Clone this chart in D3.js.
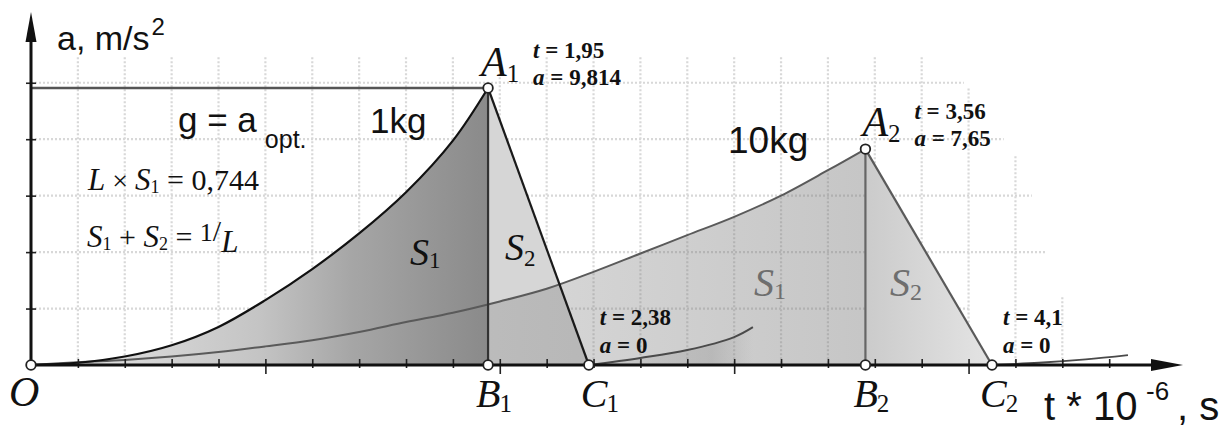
<!DOCTYPE html>
<html>
<head>
<meta charset="utf-8">
<script src="https://cdn.jsdelivr.net/npm/d3@7"></script>
<style>
  body { margin: 0; background: #fff; }
  svg text { fill: #111; }
</style>
</head>
<body>
<div id="chart"></div>
<script>
// acceleration curves, t in 10^-6 s, a in m/s^2
var curve1kg  = [[0,0],[0.2,0.08],[0.4,0.3],[0.6,0.7],[0.8,1.35],[1.0,2.3],[1.2,3.4],
                 [1.4,4.66],[1.6,6.12],[1.8,7.95],[1.95,9.814]];
var curve10kg = [[0,0],[0.2,0.1],[0.4,0.18],[0.6,0.3],[0.8,0.46],[1.0,0.66],[1.2,0.88],
                 [1.4,1.17],[1.6,1.52],[1.8,1.85],[2.0,2.25],[2.2,2.7],[2.4,3.3],[2.6,3.95],
                 [2.8,4.6],[3.0,5.25],[3.2,6.0],[3.4,6.9],[3.56,7.65]];
var tail1kg   = [[2.38,0],[2.6,0.25],[2.8,0.53],[3.0,0.99],[3.08,1.34]];
var tail10kg  = [[4.1,0],[4.3,0.08],[4.5,0.2],[4.68,0.35]];

var peakT = [1.95, 3.56];
var peakA = [9.814, 7.65];
var stopT = [2.38, 4.1];
var peakTLabel = ["1,95", "3,56"];
var peakALabel = ["9,814", "7,65"];
var stopTLabel = ["2,38", "4,1"];

var xTicks = [0.2,0.4,0.6,0.8,1,1.2,1.4,1.6,1.8,2,2.2,2.4,2.6,2.8,3,3.2,3.4,3.6,3.8,4,4.2,4.4,4.6];
var yTicks = [2,4,6,8,10];

// background squared paper (ragged on the right)
var gridRowEnd = [4.0, 4.33, 4.27, 4.15, 3.98];
var gridCols   = [0.2,0.4,0.6,0.8,1,1.2,1.4,1.6,1.8,2,2.2,2.4,2.6,2.8,3,3.2,3.4,3.6,3.8,4,4.2,4.4];
var gridColTop = [10.9,10.9,10.9,10.9,10.9,10.9,10.9,10.9,10.9,10.9,10.9,10.9,10.9,10.9,10.9,10.9,10.9,10.9,10.9,9.8,7.4,2.4];

var W = 1229, H = 427;
var serif = '"Liberation Serif", "Times New Roman", serif';
var sans  = '"Liberation Sans", Arial, sans-serif';

var x = d3.scaleLinear().domain([0, 4.1]).range([31, 992]);
var y = d3.scaleLinear().domain([0, 9.814]).range([365, 88]);

var svg = d3.select("#chart").append("svg")
    .attr("width", W)
    .attr("height", H);

var defs = svg.append("defs");
function hgrad(id, t0, t1, stops) {
  var g = defs.append("linearGradient").attr("id", id)
      .attr("gradientUnits", "userSpaceOnUse")
      .attr("x1", x(t0)).attr("x2", x(t1)).attr("y1", 0).attr("y2", 0);
  stops.forEach(function(s) {
    g.append("stop").attr("offset", s[0]).attr("stop-color", s[1]).attr("stop-opacity", s[2]);
  });
}
hgrad("g1kg", 0, 1.95, [[0, "#e8e8e8", 1], [0.5, "#c4c4c4", 1], [0.7, "#a6a6a6", 1], [1, "#8a8a8a", 1]]);
hgrad("g10kg", 0, 3.56, [[0, "#777", 0.08], [0.6, "#777", 0.3], [1, "#777", 0.42]]);
hgrad("gtri2", 3.56, 4.1, [[0, "#cbcbcb", 1], [1, "#e4e4e4", 1]]);
hgrad("gtail", 2.38, 3.08, [[0, "#888", 0.1], [0.75, "#888", 0.3], [1, "#888", 0]]);

// grid
var grid = svg.append("g").attr("stroke", "#d8d8d8").attr("stroke-width", 2.2)
    .attr("stroke-dasharray", "2,2");
grid.selectAll("line.row").data(yTicks).enter().append("line")
    .attr("x1", x(0)).attr("x2", function(d, i) { return x(gridRowEnd[i]); })
    .attr("y1", function(d) { return y(d); }).attr("y2", function(d) { return y(d); });
grid.selectAll("line.col").data(gridCols).enter().append("line")
    .attr("x1", function(d) { return x(d); }).attr("x2", function(d) { return x(d); })
    .attr("y1", function(d, i) { return y(gridColTop[i]); }).attr("y2", y(0));

var area = d3.area().curve(d3.curveCatmullRom)
    .x(function(d) { return x(d[0]); })
    .y0(y(0))
    .y1(function(d) { return y(d[1]); });
var line = d3.line().curve(d3.curveCatmullRom)
    .x(function(d) { return x(d[0]); })
    .y(function(d) { return y(d[1]); });
var poly = d3.line()
    .x(function(d) { return x(d[0]); })
    .y(function(d) { return y(d[1]); });

function tri(i) { return [[peakT[i], peakA[i]], [peakT[i], 0], [stopT[i], 0], [peakT[i], peakA[i]]]; }

// fills
svg.append("path").attr("d", poly(tri(0))).attr("fill", "#d6d6d6");
svg.append("path").attr("d", poly(tri(1))).attr("fill", "url(#gtri2)");
svg.append("path").attr("d", area(curve10kg)).attr("fill", "url(#g10kg)");
svg.append("path").attr("d", area(curve1kg)).attr("fill", "url(#g1kg)");
svg.append("path").attr("d", area(tail1kg)).attr("fill", "url(#gtail)");

// g = a_opt level
svg.append("line")
    .attr("x1", x(0)).attr("x2", x(peakT[0]))
    .attr("y1", y(peakA[0])).attr("y2", y(peakA[0]))
    .attr("stroke", "#555").attr("stroke-width", 2.5);

// curves
svg.append("path").attr("d", line(curve10kg)).attr("fill", "none")
    .attr("stroke", "#5a5a5a").attr("stroke-width", 2);
svg.append("path").attr("d", line(curve1kg)).attr("fill", "none")
    .attr("stroke", "#111").attr("stroke-width", 2.2);
svg.append("path").attr("d", line(tail1kg)).attr("fill", "none")
    .attr("stroke", "#4a4a4a").attr("stroke-width", 2);
svg.append("path").attr("d", line(tail10kg)).attr("fill", "none")
    .attr("stroke", "#4a4a4a").attr("stroke-width", 1.8);

// triangle edges
var edgeColor = ["#1a1a1a", "#5a5a5a"];
[0, 1].forEach(function(i) {
  svg.append("path").attr("d", poly(tri(i).slice(0, 2))).attr("fill", "none")
      .attr("stroke", i ? "#666" : "#333").attr("stroke-width", 2.2);
  svg.append("path").attr("d", poly([[peakT[i], peakA[i]], [stopT[i], 0]])).attr("fill", "none")
      .attr("stroke", edgeColor[i]).attr("stroke-width", 2.2);
});

// axes
var xAxis = svg.append("g")
    .attr("transform", "translate(0," + y(0) + ")")
    .call(d3.axisBottom(x).tickValues(xTicks).tickSizeOuter(0).tickFormat(""));
xAxis.select(".domain").remove();
xAxis.selectAll(".tick line")
    .attr("y1", -6)
    .attr("y2", function(d) { return Number.isInteger(d) ? 9 : 3; })
    .attr("stroke", "#222").attr("stroke-width", 1.6);

var yAxis = svg.append("g")
    .attr("transform", "translate(" + x(0) + ",0)")
    .call(d3.axisLeft(y).tickValues(yTicks).tickSizeOuter(0).tickFormat(""));
yAxis.select(".domain").remove();
yAxis.selectAll(".tick line")
    .attr("x1", -5).attr("x2", 5)
    .attr("stroke", "#222").attr("stroke-width", 1.6);

svg.append("line").attr("x1", x(0)).attr("x2", 1160).attr("y1", y(0)).attr("y2", y(0))
    .attr("stroke", "#111").attr("stroke-width", 3);
svg.append("path").attr("d", "M1183," + y(0) + "L1151," + (y(0) - 6) + "L1151," + (y(0) + 6) + "Z")
    .attr("fill", "#111");
svg.append("line").attr("x1", x(0)).attr("x2", x(0)).attr("y1", y(0)).attr("y2", 36)
    .attr("stroke", "#111").attr("stroke-width", 3);
svg.append("path").attr("d", "M" + x(0) + ",12L" + (x(0) - 5.5) + ",42L" + (x(0) + 5.5) + ",42Z")
    .attr("fill", "#111");

// points
var pts = [[0, 0]];
[0, 1].forEach(function(i) {
  pts.push([peakT[i], peakA[i]], [peakT[i], 0], [stopT[i], 0]);
});
svg.selectAll("circle.pt").data(pts).enter().append("circle")
    .attr("cx", function(d) { return x(d[0]); })
    .attr("cy", function(d) { return y(d[1]); })
    .attr("r", 4.8)
    .attr("fill", "#fff").attr("stroke", "#222").attr("stroke-width", 1.8);

// text helper: parts = [text, size, italic, dy, dx, weight, family]
function label(px, py, parts, color) {
  var t = svg.append("text").attr("x", px).attr("y", py)
      .style("fill", color || "#111");
  parts.forEach(function(p) {
    var s = t.append("tspan").text(p[0])
        .attr("font-size", p[1])
        .attr("font-family", p[6] || serif)
        .attr("font-style", p[2] ? "italic" : "normal")
        .attr("font-weight", p[5] || "normal");
    if (p[3]) s.attr("dy", p[3]);
    if (p[4]) s.attr("dx", p[4]);
  });
  return t;
}

// axis titles
label(57, 50, [["a, m/s", 34, 0, 0, 0, 0, sans], ["2", 24, 0, -15, 2, 0, sans]]);
label(1044, 420, [["t * 10", 40, 0, 0, 0, 0, sans]]);
label(1146, 400, [["-6", 26, 0, 0, 0, 0, sans]]);
label(1177, 420, [[", s", 40, 0, 0, 0, 0, sans]]);

// legend-ish texts
label(178, 132, [["g = a", 35, 0, 0, 0, 0, sans], ["opt.", 25, 0, 16, 8, 0, sans]]);
label(370, 133, [["1kg", 35, 0, 0, 0, 0, sans]]);
label(728, 153, [["10kg", 37, 0, 0, 0, 0, sans]]);
label(88, 190, [["L", 31, 1], [" × ", 28, 0], ["S", 31, 1], ["1", 18, 0, 3], [" = 0,744", 30, 0, -3]]);
label(87, 247, [["S", 31, 1], ["1", 18, 0, 3], [" + ", 30, 0, -3], ["S", 31, 1], ["2", 18, 0, 3],
                [" = ", 30, 0, -3], ["1", 26, 0, -6], ["/", 30, 0, 0], ["L", 31, 1, 11]]);

// area names
label(410, 265, [["S", 38, 1], ["1", 23, 0, 3]]);
label(505, 260, [["S", 38, 1], ["2", 23, 0, 6]]);
label(754, 296, [["S", 40, 1], ["1", 24, 0, 3]], "#6e6e6e");
label(890, 296, [["S", 40, 1], ["2", 24, 0, 4]], "#6e6e6e");

// point names
label(x(0) - 22, y(0) + 41, [["O", 42, 1]]);
var peakDx = [-7, -3], peakDy = [-12, -13];
[0, 1].forEach(function(i) {
  label(x(peakT[i]) + peakDx[i], y(peakA[i]) + peakDy[i], [["A", 42, 1], [String(i + 1), 25, 0, 6]]);
  label(x(peakT[i]) - 12, y(0) + 42, [["B", 40, 1], [String(i + 1), 25, 0, 5, -1]]);
  label(x(stopT[i]) - 8 - 4 * i, y(0) + 42, [["C", 40, 1], [String(i + 1), 25, 0, 5, -1]]);

  var ax = x(peakT[i]) + 45 + 4 * i, ay = y(peakA[i]);
  label(ax, ay - 30, [["t", 23, 1, 0, 0, "bold"], [" = " + peakTLabel[i], 23, 0, 0, 0, "bold"]]);
  label(ax, ay - 3, [["a", 23, 1, 0, 0, "bold"], [" = " + peakALabel[i], 23, 0, 0, 0, "bold"]]);

  var cx = x(stopT[i]) + 11;
  label(cx, y(0) - 40, [["t", 23, 1, 0, 0, "bold"], [" = " + stopTLabel[i], 23, 0, 0, 0, "bold"]]);
  label(cx, y(0) - 12, [["a", 23, 1, 0, 0, "bold"], [" = 0", 23, 0, 0, 0, "bold"]]);
});
</script>
</body>
</html>
